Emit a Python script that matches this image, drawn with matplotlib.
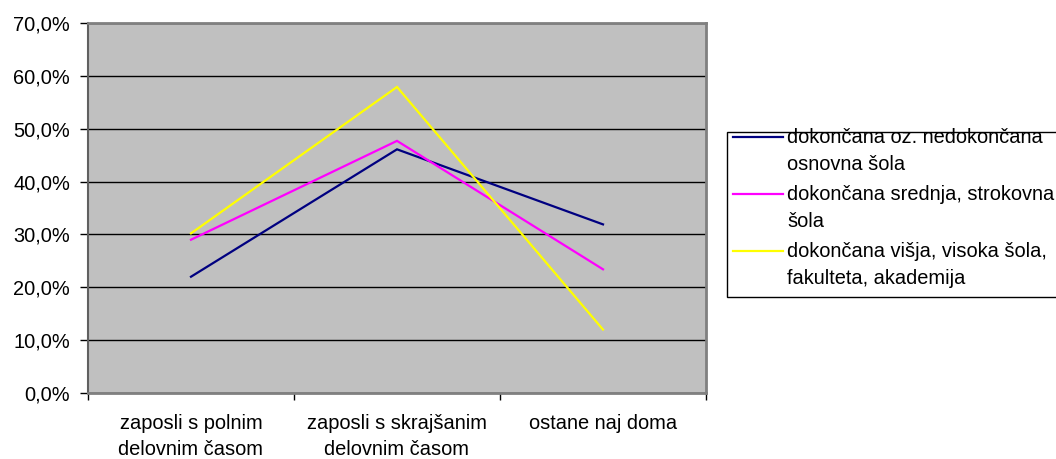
import matplotlib
matplotlib.use("Agg")
import matplotlib.pyplot as plt
from matplotlib.lines import Line2D
from matplotlib.patches import Rectangle
from matplotlib.ticker import FixedLocator, NullFormatter

plt.rcParams['font.family'] = ['Liberation Sans', 'DejaVu Sans']

# data
categories = ["zaposli s polnim\ndelovnim časom",
              "zaposli s skrajšanim\ndelovnim časom",
              "ostane naj doma"]
series_labels = ["dokončana oz. nedokončana\nosnovna šola",
                 "dokončana srednja, strokovna\nšola",
                 "dokončana višja, visoka šola,\nfakulteta, akademija"]
osnovna = [22.0, 46.1, 31.9]
srednja = [29.0, 47.7, 23.4]
visja = [30.2, 57.9, 12.0]
series = [osnovna, srednja, visja]
colors = ["#000080", "#FF00FF", "#FFFF00"]
yticks = [0, 10, 20, 30, 40, 50, 60, 70]

W, H = 1056, 459
fig = plt.figure(figsize=(W / 100, H / 100), dpi=100)
fig.patch.set_facecolor("white")

ax = fig.add_axes([88 / W, 1 - 393 / H, 618 / W, 370 / H])
ax.set_facecolor("#C0C0C0")

x = list(range(len(categories)))
for vals, col in zip(series, colors):
    ax.plot(x, vals, color=col, lw=1.6, zorder=3, solid_joinstyle="miter")

ax.set_xlim(-0.5, len(categories) - 0.5)
ax.set_ylim(0, 70)

# y axis
ax.set_yticks(yticks)
ax.set_yticklabels([f"{v:.1f}%".replace(".", ",") for v in yticks])
ax.tick_params(axis="y", length=6, width=1, color="black", pad=7, labelsize=14.4)
ax.yaxis.grid(True, color="black", lw=1)
ax.set_axisbelow(True)

# x axis: ticks between categories, labels centred on categories
ax.xaxis.set_major_locator(FixedLocator([i - 0.5 for i in range(len(categories) + 1)]))
ax.xaxis.set_major_formatter(NullFormatter())
ax.xaxis.set_minor_locator(FixedLocator(x))
ax.set_xticklabels(categories, minor=True)
ax.tick_params(axis="x", which="major", length=5, width=1, color="black")
ax.tick_params(axis="x", which="minor", length=0, pad=15, labelsize=14.4)
for t in ax.get_xticklabels(minor=True):
    t.set_linespacing(1.5)

for side, sp in ax.spines.items():
    sp.set_color("#808080")
    sp.set_linewidth(2)
ax.spines["left"].set_color("#606060")
ax.spines["left"].set_linewidth(1.5)

# legend, drawn by hand so the key sits on the first text line
fig.patches.append(Rectangle((727 / W, 1 - 297 / H), 340 / W, 165 / H,
                             transform=fig.transFigure, facecolor="white",
                             edgecolor="black", lw=1))
row_y = [137, 194, 251]
for lab, col, ry in zip(series_labels, colors, row_y):
    fig.lines.append(Line2D([733 / W, 783 / W], [1 - ry / H, 1 - ry / H],
                            transform=fig.transFigure, color=col, lw=1.6))
    fig.text(787 / W, 1 - (ry + 14) / H, lab, va="center", ha="left",
             fontsize=14.4, linespacing=1.55)

fig.savefig("out.png", dpi=100)
